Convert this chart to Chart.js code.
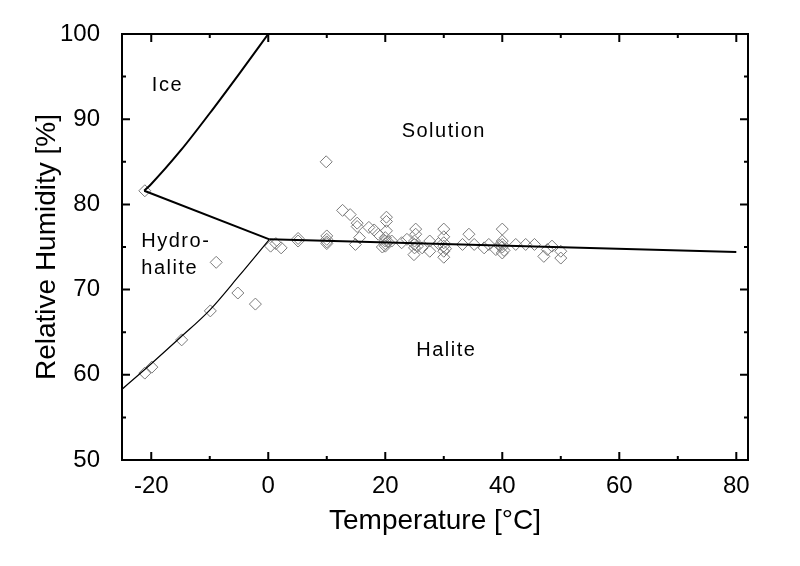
<!DOCTYPE html>
<html>
<head>
<meta charset="utf-8">
<script src="https://cdn.jsdelivr.net/npm/chart.js@4/dist/chart.umd.min.js"></script>
<style>
  html, body { margin: 0; padding: 0; background: #fff; }
  #wrap { width: 800px; height: 566px; }
</style>
</head>
<body>
<div id="wrap"><canvas id="chart" width="800" height="566"></canvas></div>
<script>
// measured points (temperature °C, relative humidity %)
var measTemp = [-21.1, -21.1, -19.9, -14.8, -9.9, -8.9, -5.2, -2.2, 0.4, 1.3, 2.2, 5.1, 5.1,
    9.9, 10, 10, 10, 10, 12.7, 14.0, 15.2, 15.2, 14.9, 15.6, 17.2, 18.1, 18.8,
    20.2, 20.2, 20.2, 20, 20, 20, 20, 20.5, 19.5, 21.1, 22.8, 23.7,
    25.2, 25.2, 25, 25, 25, 25.5, 24.9, 26.3, 27.6, 27.6, 29.1,
    30, 30, 30, 30, 30.3, 30, 30, 33.2, 34.3, 35.2, 36.9, 37.7, 38.9,
    40, 40, 40, 40, 40.3, 40, 39.5, 42.3, 44.0, 45.5, 47.1, 47.7, 48.5, 50, 50];
var measRH = [81.6, 60.2, 60.9, 64.1, 67.5, 73.2, 69.6, 68.3, 75.1, 75.4, 74.9, 76.0, 75.7,
    85.0, 76.3, 75.9, 75.6, 75.4, 79.3, 78.8, 77.8, 77.4, 75.3, 76.1, 77.3, 77.0, 76.5,
    78.5, 78.0, 76.9, 76.1, 75.7, 75.4, 75.1, 75.6, 75.0, 75.7, 75.5, 75.9,
    77.1, 76.5, 75.7, 75.3, 74.9, 75.1, 74.1, 74.9, 75.7, 74.5, 75.4,
    77.1, 76.2, 75.5, 75.1, 74.8, 74.5, 73.8, 75.3, 76.5, 75.3, 74.9, 75.3, 74.7,
    77.1, 75.7, 75.3, 75.0, 74.6, 74.3, 75.2, 75.3, 75.3, 75.3, 73.9, 74.7, 75.1, 74.5, 73.7];

// phase boundaries
var iceTemp = [-21.2, -20, -15, -10, -5, 0];
var iceRH = [81.6, 82.4, 86.3, 90.7, 95.3, 100];
var hydroSolTemp = [-21.2, 0.2];
var hydroSolRH = [81.6, 75.9];
var haliteTemp = [0.2, 80];
var haliteRH = [75.9, 74.4];
var hydroHalTemp = [-25, -20, -15, -10, -5, 0.2];
var hydroHalRH = [58.3, 61.3, 64.4, 67.6, 71.6, 75.9];

var xTicks = [-20, 0, 20, 40, 60, 80];
var xMinor = [-10, 10, 30, 50, 70];
var yTicks = [50, 60, 70, 80, 90, 100];
var yMinor = [55, 65, 75, 85, 95];

var regionText = ['Ice', 'Solution', 'Hydro-', 'halite', 'Halite'];
var regionTemp = [-19.9, 22.8, -21.7, -21.7, 25.3];
var regionRH = [93.9, 88.6, 75.6, 72.5, 62.8];

function pts(xs, ys) {
    var out = [];
    for (var i = 0; i < xs.length; i++) {
        out.push({x: xs[i], y: ys[i]});
    }
    return out;
}

function lineSet(xs, ys, w, smooth) {
    return {
        type: 'line',
        data: pts(xs, ys),
        borderColor: '#000',
        borderWidth: w,
        pointRadius: 0,
        fill: false,
        cubicInterpolationMode: smooth ? 'monotone' : 'default',
        tension: 0
    };
}

var framePlugin = {
    id: 'frame',
    afterDraw: function(chart) {
        var ctx = chart.ctx;
        var a = chart.chartArea;
        var xs = chart.scales.x, ys = chart.scales.y;
        ctx.save();
        ctx.strokeStyle = '#000';
        ctx.lineWidth = 2;
        ctx.strokeRect(a.left, a.top, a.right - a.left, a.bottom - a.top);
        ctx.beginPath();
        function xt(v, len) {
            var p = xs.getPixelForValue(v);
            ctx.moveTo(p, a.bottom); ctx.lineTo(p, a.bottom - len);
            ctx.moveTo(p, a.top); ctx.lineTo(p, a.top + len);
        }
        function yt(v, len) {
            var p = ys.getPixelForValue(v);
            ctx.moveTo(a.left, p); ctx.lineTo(a.left + len, p);
            ctx.moveTo(a.right, p); ctx.lineTo(a.right - len, p);
        }
        xTicks.forEach(function(v) { xt(v, 8); });
        xMinor.forEach(function(v) { xt(v, 4); });
        yTicks.forEach(function(v) { yt(v, 8); });
        yMinor.forEach(function(v) { yt(v, 4); });
        ctx.stroke();

        ctx.fillStyle = '#000';
        ctx.font = '20px "Liberation Sans", Arial, sans-serif';
        ctx.letterSpacing = '1.5px';
        ctx.textAlign = 'left';
        ctx.textBaseline = 'middle';
        for (var i = 0; i < regionText.length; i++) {
            ctx.fillText(regionText[i], xs.getPixelForValue(regionTemp[i]), ys.getPixelForValue(regionRH[i]));
        }
        ctx.restore();
    }
};

var tickFont = { family: '"Liberation Sans", Arial, sans-serif', size: 24 };
var titleFont = { family: '"Liberation Sans", Arial, sans-serif', size: 28 };

new Chart(document.getElementById('chart'), {
    type: 'scatter',
    data: {
        datasets: [
            lineSet(iceTemp, iceRH, 2, true),
            lineSet(hydroSolTemp, hydroSolRH, 2, false),
            lineSet(haliteTemp, haliteRH, 2, false),
            lineSet(hydroHalTemp, hydroHalRH, 1.2, true),
            {
                type: 'scatter',
                data: pts(measTemp, measRH),
                pointStyle: 'rectRot',
                pointRadius: 6,
                borderColor: '#7a7a7a',
                borderWidth: 1,
                backgroundColor: 'rgba(0,0,0,0)'
            }
        ]
    },
    options: {
        responsive: false,
        animation: false,
        devicePixelRatio: 1,
        layout: { padding: { left: 0, top: 34, right: 52, bottom: 0 } },
        plugins: { legend: { display: false }, tooltip: { enabled: false } },
        scales: {
            x: {
                type: 'linear',
                min: -25,
                max: 82,
                grid: { display: false },
                border: { display: false },
                afterBuildTicks: function(s) {
                    s.ticks = xTicks.map(function(v) { return {value: v}; });
                },
                afterFit: function(s) { s.height = 106; },
                ticks: { color: '#000', font: tickFont, padding: 4, maxRotation: 0 },
                title: {
                    display: true,
                    text: 'Temperature [°C]',
                    color: '#000',
                    font: titleFont,
                    padding: { top: 0, bottom: 28 }
                }
            },
            y: {
                type: 'linear',
                min: 50,
                max: 100,
                grid: { display: false },
                border: { display: false },
                afterBuildTicks: function(s) {
                    s.ticks = yTicks.map(function(v) { return {value: v}; });
                },
                afterFit: function(s) { s.width = 122; },
                ticks: { color: '#000', font: tickFont, padding: 14 },
                title: {
                    display: true,
                    text: 'Relative Humidity [%]',
                    color: '#000',
                    font: titleFont,
                    padding: { top: 30, bottom: 0 }
                }
            }
        }
    },
    plugins: [framePlugin]
});
</script>
</body>
</html>
